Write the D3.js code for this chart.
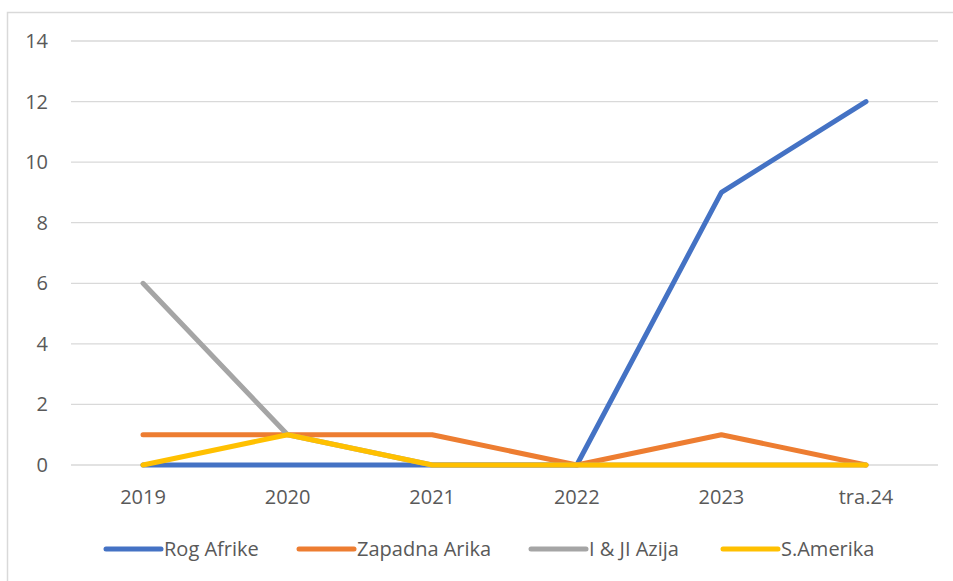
<!DOCTYPE html>
<html>
<head>
<meta charset="utf-8">
<script src="https://cdn.jsdelivr.net/npm/d3@7"></script>
<style>
  body { margin: 0; background: #fff; }
  text { font-family: "Open Sans", "Liberation Sans", Arial, sans-serif; fill: #595959; }
</style>
</head>
<body>
<div id="container"></div>
<script>
var categories = ['2019', '2020', '2021', '2022', '2023', 'tra.24'];
var rogAfrike = [0, 0, 0, 0, 9, 12];
var zapadnaArika = [1, 1, 1, 0, 1, 0];
var azija = [6, 1, 0, 0, 0, 0];
var sAmerika = [0, 1, 0, 0, 0, 0];
var yTicks = [0, 2, 4, 6, 8, 10, 12, 14];

var series = [
  { name: 'Rog Afrike', values: rogAfrike, color: '#4472C4' },
  { name: 'Zapadna Arika', values: zapadnaArika, color: '#ED7D31' },
  { name: 'I & JI Azija', values: azija, color: '#A5A5A5' },
  { name: 'S.Amerika', values: sAmerika, color: '#FFC000' }
];

var width = 953, height = 581;
var fontSize = 20;
var svg = d3.select('#container').append('svg')
  .attr('width', width).attr('height', height);

// chart border (only top and left are visible in the frame)
svg.append('rect')
  .attr('x', 7.5).attr('y', 12.5)
  .attr('width', 960).attr('height', 600)
  .attr('fill', 'none').attr('stroke', '#d9d9d9').attr('stroke-width', 1.5);

var plotLeft = 71, plotRight = 938;
var x = d3.scalePoint().domain(categories).range([143, 866]);
var y = d3.scaleLinear().domain([0, 14]).range([465, 41]);

// gridlines
svg.append('g').selectAll('line')
  .data(yTicks)
  .enter().append('line')
  .attr('x1', plotLeft).attr('x2', plotRight)
  .attr('y1', function(d) { return y(d); })
  .attr('y2', function(d) { return y(d); })
  .attr('stroke', '#d9d9d9').attr('stroke-width', 1.3);

// y axis labels
svg.append('g').selectAll('text')
  .data(yTicks)
  .enter().append('text')
  .attr('x', 48)
  .attr('y', function(d) { return y(d) + 7; })
  .attr('text-anchor', 'end')
  .attr('font-size', fontSize)
  .text(function(d) { return d; });

// x axis labels
svg.append('g').selectAll('text')
  .data(categories)
  .enter().append('text')
  .attr('x', function(d) { return x(d); })
  .attr('y', 504)
  .attr('text-anchor', 'middle')
  .attr('font-size', fontSize)
  .text(function(d) { return d; });

var line = d3.line()
  .x(function(d, i) { return x(categories[i]); })
  .y(function(d) { return y(d); });

svg.append('g').selectAll('path')
  .data(series)
  .enter().append('path')
  .attr('d', function(d) { return line(d.values); })
  .attr('fill', 'none')
  .attr('stroke', function(d) { return d.color; })
  .attr('stroke-width', 5)
  .attr('stroke-linecap', 'round')
  .attr('stroke-linejoin', 'round');

// legend
var legendX = [106, 299, 531, 723];
var leg = svg.append('g').selectAll('g')
  .data(series)
  .enter().append('g')
  .attr('transform', function(d, i) { return 'translate(' + legendX[i] + ',549)'; });

leg.append('line')
  .attr('x1', 0).attr('x2', 55)
  .attr('y1', 0).attr('y2', 0)
  .attr('stroke', function(d) { return d.color; })
  .attr('stroke-width', 5)
  .attr('stroke-linecap', 'round');

leg.append('text')
  .attr('x', 58).attr('y', 7)
  .attr('font-size', fontSize)
  .text(function(d) { return d.name; });
</script>
</body>
</html>
